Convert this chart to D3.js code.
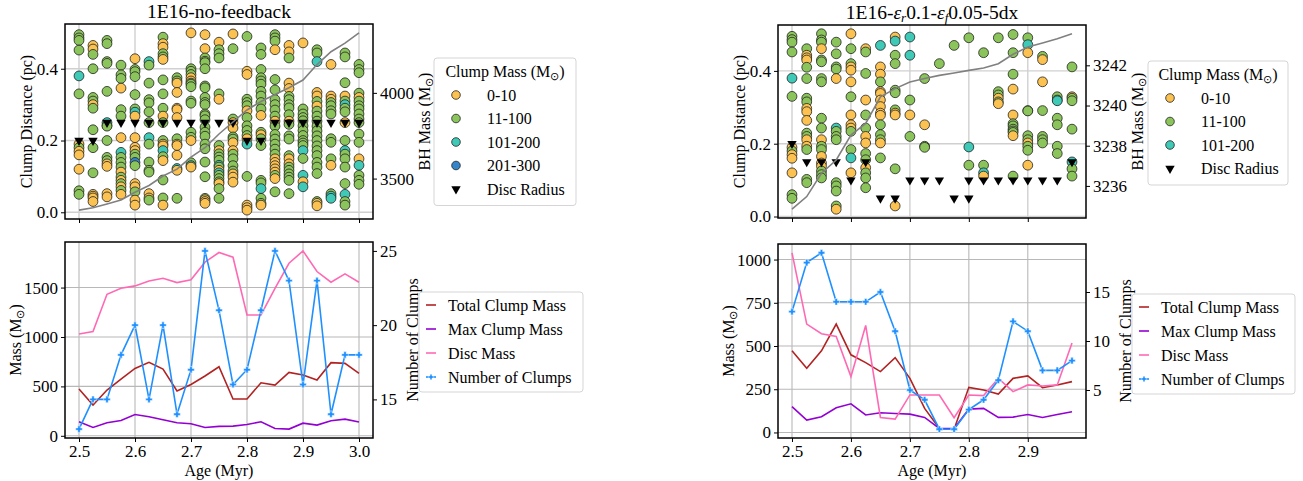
<!DOCTYPE html>
<html>
<head>
<meta charset="utf-8">
<script src="https://cdn.jsdelivr.net/npm/d3@7"></script>
<style>
  body { margin: 0; background: #fff; }
  text { font-family: "Liberation Serif", "Times New Roman", serif; fill: #000; }
</style>
</head>
<body>
<svg id="fig" width="1303" height="481"></svg>
<script>
// ---------------- data : run 1E16-no-feedback ----------------
const agesA = [2.5, 2.525, 2.55, 2.575, 2.6, 2.625, 2.65, 2.675, 2.7, 2.725, 2.75,
               2.775, 2.8, 2.825, 2.85, 2.875, 2.9, 2.925, 2.95, 2.975, 3.0];
const bhMassA = [3316, 3330, 3352, 3375, 3420, 3460, 3515, 3555, 3625, 3680, 3760,
                 3830, 3900, 3950, 3990, 4030, 4075, 4165, 4240, 4290, 4350];
const discRadiusA = [0.2, 0.2, 0.25, 0.25, 0.25, 0.25, 0.25, 0.25, 0.25, 0.25, 0.25,
                     0.25, 0.2, 0.2, 0.25, 0.25, 0.25, 0.25, 0.25, 0.25, 0.25];
// clump distances (pc) per snapshot, and mass bin per clump (y 0-10, g 11-100, t 101-200, b 201-300)
const clumpDistA = [
  [0.495, 0.486, 0.479, 0.452, 0.38, 0.33, 0.19, 0.18, 0.17, 0.16, 0.12, 0.06, 0.05],
  [0.465, 0.455, 0.44, 0.40, 0.32, 0.31, 0.30, 0.29, 0.23, 0.18, 0.11, 0.05, 0.045, 0.04, 0.03],
  [0.479, 0.47, 0.42, 0.415, 0.337, 0.25, 0.242, 0.24, 0.2, 0.153, 0.144, 0.135, 0.128, 0.052, 0.043],
  [0.41, 0.383, 0.373, 0.346, 0.286, 0.268, 0.208, 0.167, 0.153, 0.139, 0.126, 0.112, 0.098, 0.089, 0.08, 0.071, 0.061, 0.05],
  [0.428, 0.398, 0.392, 0.378, 0.328, 0.288, 0.279, 0.268, 0.208, 0.181, 0.172, 0.162, 0.153, 0.139, 0.13, 0.08, 0.071, 0.057, 0.034, 0.02],
  [0.42, 0.41, 0.36, 0.314, 0.305, 0.28, 0.25, 0.208, 0.19, 0.14, 0.117, 0.112, 0.052, 0.04, 0.034],
  [0.488, 0.47, 0.46, 0.442, 0.433, 0.426, 0.369, 0.33, 0.29, 0.268, 0.25, 0.2, 0.19, 0.185, 0.172, 0.155, 0.144, 0.09, 0.04, 0.02],
  [0.375, 0.366, 0.36, 0.334, 0.29, 0.286, 0.264, 0.205, 0.19, 0.186, 0.159, 0.122, 0.117, 0.039],
  [0.5, 0.4, 0.393, 0.384, 0.375, 0.366, 0.36, 0.357, 0.35, 0.31, 0.304, 0.223, 0.209, 0.2, 0.138, 0.13, 0.126],
  [0.495, 0.456, 0.43, 0.421, 0.417, 0.40, 0.352, 0.347, 0.32, 0.306, 0.3, 0.274, 0.269, 0.258, 0.237, 0.223, 0.212, 0.19, 0.177, 0.14, 0.099, 0.039, 0.035, 0.03, 0.025],
  [0.474, 0.453, 0.442, 0.43, 0.33, 0.315, 0.186, 0.172, 0.163, 0.154, 0.145, 0.131, 0.126, 0.117, 0.11, 0.103, 0.094, 0.085, 0.08, 0.066, 0.039],
  [0.497, 0.456, 0.26, 0.25, 0.235, 0.21, 0.204, 0.194, 0.172, 0.162, 0.149, 0.13, 0.115, 0.107, 0.098, 0.084],
  [0.49, 0.393, 0.384, 0.315, 0.306, 0.297, 0.283, 0.264, 0.241, 0.228, 0.214, 0.205, 0.19, 0.1, 0.02, 0.013, 0.006],
  [0.458, 0.44, 0.398, 0.375, 0.366, 0.357, 0.337, 0.324, 0.306, 0.288, 0.27, 0.223, 0.216, 0.205, 0.186, 0.089, 0.082, 0.066, 0.039, 0.025, 0.02],
  [0.495, 0.486, 0.477, 0.453, 0.37, 0.341, 0.314, 0.3, 0.285, 0.268, 0.254, 0.24, 0.217, 0.204, 0.19, 0.176, 0.162, 0.149, 0.139, 0.13, 0.121, 0.112, 0.103, 0.094, 0.057],
  [0.465, 0.447, 0.43, 0.36, 0.345, 0.323, 0.314, 0.3, 0.291, 0.272, 0.254, 0.245, 0.213, 0.204, 0.158, 0.149, 0.135, 0.126, 0.117, 0.107, 0.098, 0.089, 0.052],
  [0.472, 0.288, 0.274, 0.264, 0.255, 0.241, 0.228, 0.214, 0.2, 0.193, 0.186, 0.172, 0.15, 0.103, 0.085, 0.071],
  [0.453, 0.444, 0.42, 0.334, 0.324, 0.309, 0.296, 0.282, 0.268, 0.254, 0.24, 0.227, 0.213, 0.2, 0.185, 0.172, 0.158, 0.139, 0.126, 0.108, 0.03, 0.025, 0.018],
  [0.412, 0.324, 0.315, 0.306, 0.297, 0.283, 0.274, 0.205, 0.195, 0.149, 0.131, 0.052, 0.045, 0.039],
  [0.444, 0.433, 0.361, 0.324, 0.31, 0.3, 0.29, 0.28, 0.25, 0.2, 0.172, 0.162, 0.149, 0.126, 0.08, 0.05, 0.03, 0.02],
  [0.412, 0.398, 0.389, 0.332, 0.32, 0.31, 0.297, 0.288, 0.274, 0.26, 0.25, 0.218, 0.195, 0.149, 0.131, 0.103, 0.089, 0.078]
];
const clumpBinA = [
  "ggggtgygyyygg", "yyggggyggggyyyy", "gggggtgggggyyyy",
  "gggyggytgggygygygy", "ygggggtyyyyggbgyygyy", "tggggggtggggyyg",
  "gyyggygggyggyytgyggy", "ggyyyyygyyytyg", "ygggyygggggggygty",
  "yyggggggggggggggggggggyyy", "yggggygygggtgytgggygg", "yggyyggyyggggyyy",
  "gyygggyggggytgyyy", "ggggggggggygyggggtggy", "gggyggggggyggggggyyyyygyg",
  "yygyygggggyggggyyggggggy", "yggggggggggtgtyty", "ggtyygyggggggggggggggyy",
  "yyygggggggygtt", "gggygtggygtggggtggyy", "ggggyggggggggytggg"
];
const nClumpsA = [13, 15, 15, 18, 20, 15, 20, 14, 17, 25, 21, 16, 17, 21, 25, 23, 16, 23, 14, 18, 18];
const totalMassA = [473, 311, 463, 574, 682, 743, 676, 453, 520, 605, 699, 372, 372, 537, 513, 642, 615, 564, 740, 733, 632];
const maxMassA = [142, 84, 132, 155, 216, 193, 162, 132, 122, 84, 95, 98, 115, 142, 74, 68, 128, 108, 152, 169, 139];
const discMassA = [1030, 1054, 1432, 1493, 1517, 1567, 1594, 1550, 1578, 1757, 1855, 1807, 1223, 1223, 1493, 1746, 1871, 1662, 1554, 1638, 1554];

// ---------------- data : run 1E16-er0.1-ef0.05-5dx ----------------
const agesB = [2.5, 2.525, 2.55, 2.575, 2.6, 2.625, 2.65, 2.675, 2.7, 2.725,
               2.75, 2.775, 2.8, 2.825, 2.85, 2.875, 2.9, 2.925, 2.95, 2.975];
const bhMassB = [3234.84, 3235.47, 3236.63, 3237.29, 3238.53, 3239.11, 3240.43, 3240.84, 3241.17, 3241.34,
                 3241.5, 3241.62, 3241.75, 3241.87, 3242.08, 3242.55, 3242.91, 3243.11, 3243.32, 3243.57];
const discAgeB = [2.5, 2.525, 2.55, 2.575, 2.6, 2.625, 2.65, 2.675, 2.7, 2.725, 2.75,
                  2.775, 2.8, 2.8, 2.825, 2.85, 2.875, 2.9, 2.925, 2.95, 2.975];
const discRadiusB = [0.2, 0.15, 0.15, 0.15, 0.1, 0.15, 0.05, 0.05, 0.1, 0.1, 0.1,
                     0.05, 0.1, 0.05, 0.1, 0.1, 0.1, 0.1, 0.1, 0.1, 0.15];
const clumpDistB = [
  [0.495, 0.486, 0.479, 0.452, 0.38, 0.33, 0.19, 0.18, 0.17, 0.16, 0.12, 0.06, 0.05],
  [0.461, 0.443, 0.436, 0.43, 0.41, 0.379, 0.325, 0.315, 0.297, 0.288, 0.264, 0.229, 0.22, 0.211, 0.193, 0.184, 0.102, 0.093],
  [0.502, 0.485, 0.479, 0.461, 0.43, 0.425, 0.379, 0.37, 0.27, 0.243, 0.211, 0.193, 0.184, 0.165, 0.147, 0.138, 0.125, 0.115, 0.106],
  [0.479, 0.447, 0.411, 0.405, 0.379, 0.243, 0.234, 0.22, 0.211, 0.093, 0.084, 0.07, 0.029, 0.02],
  [0.502, 0.461, 0.42, 0.411, 0.402, 0.37, 0.329, 0.279, 0.252, 0.243, 0.234, 0.184, 0.161, 0.12],
  [0.461, 0.452, 0.393, 0.32, 0.279, 0.243, 0.22, 0.202, 0.173, 0.156, 0.134, 0.12, 0.106, 0.079],
  [0.47, 0.411, 0.391, 0.37, 0.343, 0.338, 0.32, 0.302, 0.284, 0.278, 0.252, 0.225, 0.211, 0.202, 0.161],
  [0.493, 0.482, 0.443, 0.42, 0.347, 0.34, 0.293, 0.284, 0.279, 0.131, 0.029],
  [0.493, 0.443, 0.32, 0.279, 0.22],
  [0.379, 0.252, 0.193, 0.19],
  [0.42],
  [0.47],
  [0.491, 0.191, 0.141],
  [0.45, 0.141, 0.12, 0.111],
  [0.491, 0.343, 0.334, 0.325, 0.315, 0.31],
  [0.5, 0.45, 0.391, 0.35, 0.279, 0.255, 0.249, 0.24, 0.235, 0.231, 0.222, 0.111],
  [0.491, 0.472, 0.45, 0.291, 0.29, 0.222, 0.211, 0.202, 0.193, 0.182, 0.141],
  [0.44, 0.431, 0.37, 0.291, 0.22, 0.211, 0.202],
  [0.329, 0.32, 0.318, 0.27, 0.252, 0.193, 0.173],
  [0.411, 0.329, 0.325, 0.318, 0.24, 0.15, 0.131, 0.111]
];
const clumpBinB = [
  "ggggtgygyyygg", "gyyyggggyyyggyyggg", "gggyggggggyggyyyggg",
  "ggggytgggggggyy", "yggyyygyyyggty", "yggyggyyggyggg",
  "tyygyyyyyygggyg", "ytgggggyygy", "ttgyg", "gygg", "g", "g", "gtg", "ggty", "gggygy", "gggyygggggyg",
  "gtyggggyggy", "gyygggg", "ggtgggg", "gygggtgg"
];
const nClumpsB = [13, 18, 19, 14, 14, 14, 15, 11, 5, 4, 1, 1, 3, 4, 6, 12, 11, 7, 7, 8];
const totalMassB = [472, 371, 472, 627, 449, 404, 352, 433, 313, 139, 23, 19, 261, 246, 222, 313, 327, 259, 275, 294];
const maxMassB = [149, 72, 91, 143, 166, 101, 114, 110, 106, 87, 23, 23, 135, 139, 87, 89, 104, 87, 104, 120];
const discMassB = [1039, 627, 571, 555, 323, 619, 87, 77, 217, 217, 217, 85, 217, 213, 313, 236, 275, 269, 275, 517];

// ---------------- tick labels ----------------
const distTicks = [0.0, 0.2, 0.4];
const bhTicksA = [3500, 4000];
const bhTicksB = [3236, 3238, 3240, 3242];
const ageTicksA = [2.5, 2.6, 2.7, 2.8, 2.9, 3.0];
const ageTicksB = [2.5, 2.6, 2.7, 2.8, 2.9];
const massTicksA = [0, 500, 1000, 1500];
const massTicksB = [0, 250, 500, 750, 1000];
const countTicksA = [15, 20, 25];
const countTicksB = [5, 10, 15];
const binLabels = ["0-10", "11-100", "101-200", "201-300"];

const binColor = { y: "#fbc252", g: "#8bc45a", t: "#3fcab8", b: "#3485c9" };
const binKeys = ["y", "g", "t", "b"];

let svg = d3.select("#fig");

// matplotlib style 5% padding
function padded(values) {
    let ext = d3.extent(values), s = ext[1] - ext[0];
    return [ext[0] - 0.05 * s, ext[1] + 0.05 * s];
}

function axisStyle(g) {
    g.select(".domain").remove();
    g.selectAll(".tick line").attr("stroke", "#000").attr("stroke-width", 1);
    g.selectAll(".tick text").style("font-size", "17px").style("font-family", "'Liberation Serif', serif");
}

function massLabel(t, prefix) {
    t.append("tspan").text(prefix + "(M");
    t.append("tspan").text("\u2299").attr("baseline-shift", "-25%").style("font-size", "0.7em");
    t.append("tspan").text(")");
}

function legendBox(x, y, w, h) {
    svg.append("rect").attr("x", x).attr("y", y).attr("width", w).attr("height", h)
        .attr("rx", 3).attr("fill", "#fff").attr("fill-opacity", 0.8)
        .attr("stroke", "#d5d5d5").attr("stroke-width", 1);
}

function drawScatter(p) {
    let x = d3.scaleLinear().domain(padded(p.ages)).range([p.x0, p.x1]);
    let allD = p.dists.flat().concat(p.disc);
    let y = d3.scaleLinear().domain(padded(allD)).range([p.y1, p.y0]);
    let yb = d3.scaleLinear().domain(padded(p.bh)).range([p.y1, p.y0]);
    let g = svg.append("g");

    // grid
    g.selectAll(".gx").data(p.xTicks).enter().append("line")
        .attr("x1", d => x(d)).attr("x2", d => x(d)).attr("y1", p.y0).attr("y2", p.y1)
        .attr("stroke", "#d0d0d0").attr("stroke-width", 1.4);
    g.selectAll(".gy").data(distTicks).enter().append("line")
        .attr("y1", d => y(d)).attr("y2", d => y(d)).attr("x1", p.x0).attr("x2", p.x1)
        .attr("stroke", "#d0d0d0").attr("stroke-width", 1.4);

    // clumps
    let pts = [];
    p.dists.forEach((arr, i) => arr.forEach((d, j) => pts.push({ t: p.ages[i], d: d, b: p.bins[i][j] || "g" })));
    g.selectAll(".clump").data(pts).enter().append("circle")
        .attr("cx", d => x(d.t)).attr("cy", d => y(d.d)).attr("r", 4.9)
        .attr("fill", d => binColor[d.b]).attr("stroke", "#222").attr("stroke-width", 0.8);

    // disc radius
    let tri = d3.symbol().type(d3.symbolTriangle).size(38);
    g.selectAll(".disc").data(p.disc).enter().append("path")
        .attr("d", tri)
        .attr("transform", (d, i) => "translate(" + x(p.discAges[i]) + "," + y(d) + ") rotate(180)")
        .attr("fill", "#000");

    // BH mass on twin axis
    g.append("path").datum(p.bh)
        .attr("d", d3.line().x((d, i) => x(p.ages[i])).y(d => yb(d)))
        .attr("fill", "none").attr("stroke", "#808080").attr("stroke-width", 1.6);

    // axes
    let ax = g.append("g").attr("transform", "translate(0," + p.y1 + ")")
        .call(d3.axisBottom(x).tickValues(p.xTicks).tickSize(4).tickFormat(""));
    axisStyle(ax);
    let ay = g.append("g").attr("transform", "translate(" + p.x0 + ",0)")
        .call(d3.axisLeft(y).tickValues(distTicks).tickSize(4).tickPadding(3).tickFormat(d3.format(".1f")));
    axisStyle(ay);
    let ar = g.append("g").attr("transform", "translate(" + p.x1 + ",0)")
        .call(d3.axisRight(yb).tickValues(p.bhTicks).tickSize(4).tickPadding(3).tickFormat(d3.format("d")));
    axisStyle(ar);
    g.append("rect").attr("x", p.x0).attr("y", p.y0).attr("width", p.x1 - p.x0).attr("height", p.y1 - p.y0)
        .attr("fill", "none").attr("stroke", "#000").attr("stroke-width", 1.5);

    // labels
    g.append("text").attr("transform", "translate(" + (p.x0 - 33) + "," + ((p.y0 + p.y1) / 2) + ") rotate(-90)")
        .attr("text-anchor", "middle").style("font-size", "16px").text("Clump Distance (pc)");
    let bl = g.append("text").attr("transform", "translate(" + (p.x1 + 57) + "," + ((p.y0 + p.y1) / 2) + ") rotate(-90)")
        .attr("text-anchor", "middle").style("font-size", "16px");
    massLabel(bl, "BH Mass ");
    let title = g.append("text").attr("x", (p.x0 + p.x1) / 2).attr("y", p.y0 - 6)
        .attr("text-anchor", "middle").style("font-size", "19.5px");
    p.title(title);

    // legend
    let lx = p.lx, ly = p.ly, n = p.nBins;
    legendBox(lx, ly, p.lw, 30 + (n + 1) * 23.5);
    let lt = svg.append("text").attr("x", lx + p.lw / 2).attr("y", ly + 19).attr("text-anchor", "middle")
        .style("font-size", "16px");
    massLabel(lt, "Clump Mass ");
    for (let k = 0; k <= n; k++) {
        let cy = ly + 37 + k * 23.5;
        if (k < n) {
            svg.append("circle").attr("cx", lx + 22).attr("cy", cy).attr("r", 4.3)
                .attr("fill", binColor[binKeys[k]]).attr("stroke", "#222").attr("stroke-width", 0.8);
        } else {
            svg.append("path").attr("d", tri).attr("transform", "translate(" + (lx + 22) + "," + cy + ") rotate(180)");
        }
        svg.append("text").attr("x", lx + 53).attr("y", cy + 5.5).style("font-size", "16px")
            .text(k < n ? binLabels[k] : "Disc Radius");
    }
}

function drawLines(p) {
    let x = d3.scaleLinear().domain(padded(p.ages)).range([p.x0, p.x1]);
    let y = d3.scaleLinear().domain(padded(p.total.concat(p.max, p.disc))).range([p.y1, p.y0]);
    let yc = d3.scaleLinear().domain(padded(p.count)).range([p.y1, p.y0]);
    let g = svg.append("g");

    g.selectAll(".gx").data(p.xTicks).enter().append("line")
        .attr("x1", d => x(d)).attr("x2", d => x(d)).attr("y1", p.y0).attr("y2", p.y1)
        .attr("stroke", "#b8b8b8").attr("stroke-width", 1.1);
    g.selectAll(".gy").data(p.mTicks).enter().append("line")
        .attr("y1", d => y(d)).attr("y2", d => y(d)).attr("x1", p.x0).attr("x2", p.x1)
        .attr("stroke", "#b8b8b8").attr("stroke-width", 1.1);

    let series = [[p.total, "#b22222"], [p.max, "#9400d3"], [p.disc, "#ff69b4"]];
    series.forEach(s => {
        g.append("path").datum(s[0])
            .attr("d", d3.line().x((d, i) => x(p.ages[i])).y(d => y(d)))
            .attr("fill", "none").attr("stroke", s[1]).attr("stroke-width", 1.6);
    });

    g.append("path").datum(p.count)
        .attr("d", d3.line().x((d, i) => x(p.ages[i])).y(d => yc(d)))
        .attr("fill", "none").attr("stroke", "#1e90ff").attr("stroke-width", 1.6);
    let plus = "M-1.2,-3.3L1.2,-3.3L1.2,-1.2L3.3,-1.2L3.3,1.2L1.2,1.2L1.2,3.3L-1.2,3.3L-1.2,1.2L-3.3,1.2L-3.3,-1.2L-1.2,-1.2Z";
    g.selectAll(".cnt").data(p.count).enter().append("path")
        .attr("d", plus)
        .attr("transform", (d, i) => "translate(" + x(p.ages[i]) + "," + yc(d) + ")")
        .attr("fill", "#1e90ff").attr("stroke", "#fff").attr("stroke-width", 0.5);

    let ax = g.append("g").attr("transform", "translate(0," + p.y1 + ")")
        .call(d3.axisBottom(x).tickValues(p.xTicks).tickSize(4).tickPadding(3).tickFormat(d3.format(".1f")));
    axisStyle(ax);
    let ay = g.append("g").attr("transform", "translate(" + p.x0 + ",0)")
        .call(d3.axisLeft(y).tickValues(p.mTicks).tickSize(4).tickPadding(3).tickFormat(d3.format("d")));
    axisStyle(ay);
    let ar = g.append("g").attr("transform", "translate(" + p.x1 + ",0)")
        .call(d3.axisRight(yc).tickValues(p.cTicks).tickSize(4).tickPadding(3).tickFormat(d3.format("d")));
    axisStyle(ar);
    g.append("rect").attr("x", p.x0).attr("y", p.y0).attr("width", p.x1 - p.x0).attr("height", p.y1 - p.y0)
        .attr("fill", "none").attr("stroke", "#000").attr("stroke-width", 1.5);

    let ml = g.append("text").attr("transform", "translate(" + (p.x0 - 44) + "," + ((p.y0 + p.y1) / 2) + ") rotate(-90)")
        .attr("text-anchor", "middle").style("font-size", "16px");
    massLabel(ml, "Mass ");
    g.append("text").attr("transform", "translate(" + (p.x1 + 45) + "," + ((p.y0 + p.y1) / 2) + ") rotate(-90)")
        .attr("text-anchor", "middle").style("font-size", "16px").text("Number of Clumps");
    g.append("text").attr("x", (p.x0 + p.x1) / 2).attr("y", p.y1 + 38)
        .attr("text-anchor", "middle").style("font-size", "16px").text("Age (Myr)");

    // legend
    let names = ["Total Clump Mass", "Max Clump Mass", "Disc Mass", "Number of Clumps"];
    let cols = ["#b22222", "#9400d3", "#ff69b4", "#1e90ff"];
    legendBox(p.lx, p.ly, p.lw, 100);
    names.forEach((nm, k) => {
        let cy = p.ly + 13 + k * 24;
        svg.append("line").attr("x1", p.lx + 7).attr("x2", p.lx + 17).attr("y1", cy).attr("y2", cy)
            .attr("stroke", cols[k]).attr("stroke-width", 1.6);
        if (k === 3) svg.append("path").attr("d", plus).attr("transform", "translate(" + (p.lx + 12) + "," + cy + ") scale(0.8)")
            .attr("fill", cols[k]).attr("stroke", "#fff").attr("stroke-width", 0.5);
        svg.append("text").attr("x", p.lx + 29).attr("y", cy + 5.5).style("font-size", "16px").text(nm);
    });
}

drawScatter({
    ages: agesA, dists: clumpDistA, bins: clumpBinA, bh: bhMassA, disc: discRadiusA, discAges: agesA,
    x0: 65, x1: 373, y0: 24, y1: 219, xTicks: ageTicksA, bhTicks: bhTicksA,
    lx: 434, ly: 58, lw: 142, nBins: 4,
    title: t => t.text("1E16-no-feedback")
});
drawScatter({
    ages: agesB, dists: clumpDistB, bins: clumpBinB, bh: bhMassB, disc: discRadiusB, discAges: discAgeB,
    x0: 778, x1: 1086, y0: 25, y1: 218, xTicks: ageTicksB, bhTicks: bhTicksB,
    lx: 1148, ly: 61, lw: 140, nBins: 3,
    title: t => {
        t.append("tspan").text("1E16-");
        t.append("tspan").text("\u03b5").style("font-style", "italic");
        t.append("tspan").text("r").style("font-style", "italic").style("font-size", "13px").attr("baseline-shift", "-20%");
        t.append("tspan").text("0.1-");
        t.append("tspan").text("\u03b5").style("font-style", "italic");
        t.append("tspan").text("f").style("font-style", "italic").style("font-size", "13px").attr("baseline-shift", "-20%");
        t.append("tspan").text("0.05-5dx");
    }
});
drawLines({
    ages: agesA, total: totalMassA, max: maxMassA, disc: discMassA, count: nClumpsA,
    x0: 65, x1: 373, y0: 242, y1: 438, xTicks: ageTicksA, mTicks: massTicksA, cTicks: countTicksA,
    lx: 419, ly: 292, lw: 164
});
drawLines({
    ages: agesB, total: totalMassB, max: maxMassB, disc: discMassB, count: nClumpsB,
    x0: 778, x1: 1086, y0: 244, y1: 438, xTicks: ageTicksB, mTicks: massTicksB, cTicks: countTicksB,
    lx: 1132, ly: 294, lw: 163
});
</script>
</body>
</html>
